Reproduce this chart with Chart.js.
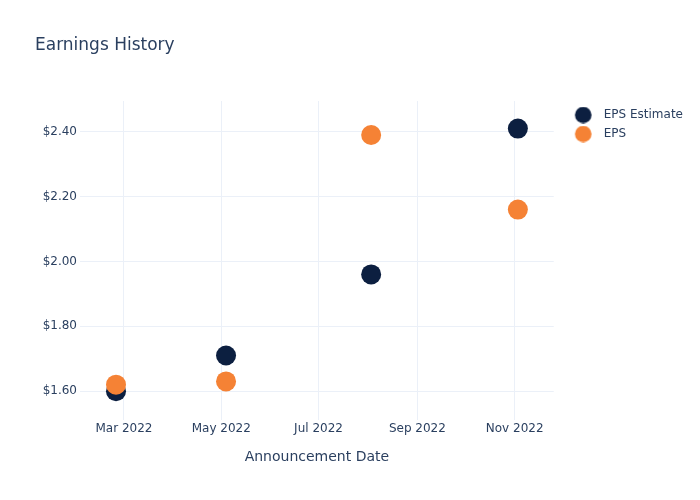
<!DOCTYPE html>
<html>
<head>
<meta charset="utf-8">
<title>Earnings History</title>
<script src="https://cdn.jsdelivr.net/npm/chart.js@4.4.0/dist/chart.umd.min.js"></script>
<style>
  html, body { margin: 0; padding: 0; background: #fff; }
  #wrap { width: 700px; height: 500px; position: relative; }
</style>
</head>
<body>
<div id="wrap"><canvas id="chart" width="700" height="500"></canvas></div>
<script>
// announcement dates (year, month 0-based, day)
const announceDates = [[2022, 1, 24], [2022, 4, 4], [2022, 7, 3], [2022, 10, 3]];
const epsEstimate = [1.60, 1.71, 1.96, 2.41];
const epsActual = [1.62, 1.63, 2.39, 2.16];

const xTickDates = [[2022, 2, 1], [2022, 4, 1], [2022, 6, 1], [2022, 8, 1], [2022, 10, 1]];
const xTickLabels = ['Mar 2022', 'May 2022', 'Jul 2022', 'Sep 2022', 'Nov 2022'];
const yTicks = [1.6, 1.8, 2.0, 2.2, 2.4];

const toTime = d => Date.UTC(d[0], d[1], d[2]);
const xTickValues = xTickDates.map(toTime);

const textColor = '#2a3f5f';
const gridColor = '#ebf0f8';
const seriesColors = ['#0c1f40', '#f58235'];
Chart.defaults.font.family = '"DejaVu Sans", Verdana, sans-serif';
Chart.defaults.color = textColor;

// legend markers: a circle sitting right of centre in a small canvas
function legendDot(color) {
    const c = document.createElement('canvas');
    c.width = 27;
    c.height = 17;
    const g = c.getContext('2d');
    g.fillStyle = color;
    g.beginPath();
    g.arc(17.5, 8.5, 8.3, 0, Math.PI * 2);
    g.fill();
    return c;
}
const legendDots = seriesColors.map(legendDot);

const ctx = document.getElementById('chart').getContext('2d');
new Chart(ctx, {
    type: 'scatter',
    data: {
        datasets: [
            {
                label: 'EPS Estimate',
                data: announceDates.map((d, i) => ({ x: toTime(d), y: epsEstimate[i] })),
                backgroundColor: seriesColors[0],
                pointRadius: 10,
                pointHoverRadius: 10,
                borderWidth: 0,
                order: 2
            },
            {
                label: 'EPS',
                data: announceDates.map((d, i) => ({ x: toTime(d), y: epsActual[i] })),
                backgroundColor: seriesColors[1],
                pointRadius: 10,
                pointHoverRadius: 10,
                borderWidth: 0,
                order: 1
            }
        ]
    },
    options: {
        responsive: false,
        animation: false,
        events: [],
        layout: { padding: { left: 35, right: 7, top: 0, bottom: 0 } },
        plugins: {
            title: {
                display: true,
                text: 'Earnings History',
                align: 'start',
                color: textColor,
                font: { size: 17, weight: 'normal' },
                padding: { top: 35, bottom: 45.6 }
            },
            legend: {
                position: 'right',
                align: 'start',
                title: { display: true, text: ' ', font: { size: 12 }, padding: { top: 87.6, bottom: 0 } },
                labels: {
                    usePointStyle: true,
                    pointStyleWidth: 37,
                    boxHeight: 11,
                    padding: 7,
                    color: textColor,
                    font: { size: 12 },
                    sort: (a, b) => a.datasetIndex - b.datasetIndex,
                    generateLabels: chart => {
                        const items = Chart.defaults.plugins.legend.labels.generateLabels(chart);
                        items.forEach(it => { it.pointStyle = legendDots[it.datasetIndex]; });
                        return items;
                    }
                }
            },
            tooltip: { enabled: false }
        },
        scales: {
            x: {
                type: 'linear',
                min: Date.UTC(2022, 1, 1, 10),
                max: Date.UTC(2022, 10, 25, 12),
                border: { display: false },
                grid: { color: gridColor, drawTicks: false },
                afterBuildTicks: s => { s.ticks = xTickValues.map(v => ({ value: v })); },
                afterFit: s => { s.height = 80; },
                ticks: {
                    padding: 2,
                    maxRotation: 0,
                    autoSkip: false,
                    font: { size: 12 },
                    callback: v => xTickLabels[xTickValues.indexOf(v)]
                },
                title: {
                    display: true,
                    text: 'Announcement Date',
                    color: textColor,
                    font: { size: 14 },
                    padding: { top: 0, bottom: 34 }
                }
            },
            y: {
                min: 1.511,
                max: 2.495,
                border: { display: false },
                grid: { color: gridColor, drawTicks: false },
                afterBuildTicks: s => { s.ticks = yTicks.map(v => ({ value: v })); },
                afterFit: s => { s.width = 45; },
                ticks: {
                    padding: 3,
                    font: { size: 12 },
                    callback: v => '$' + v.toFixed(2)
                }
            }
        }
    }
});
</script>
</body>
</html>
